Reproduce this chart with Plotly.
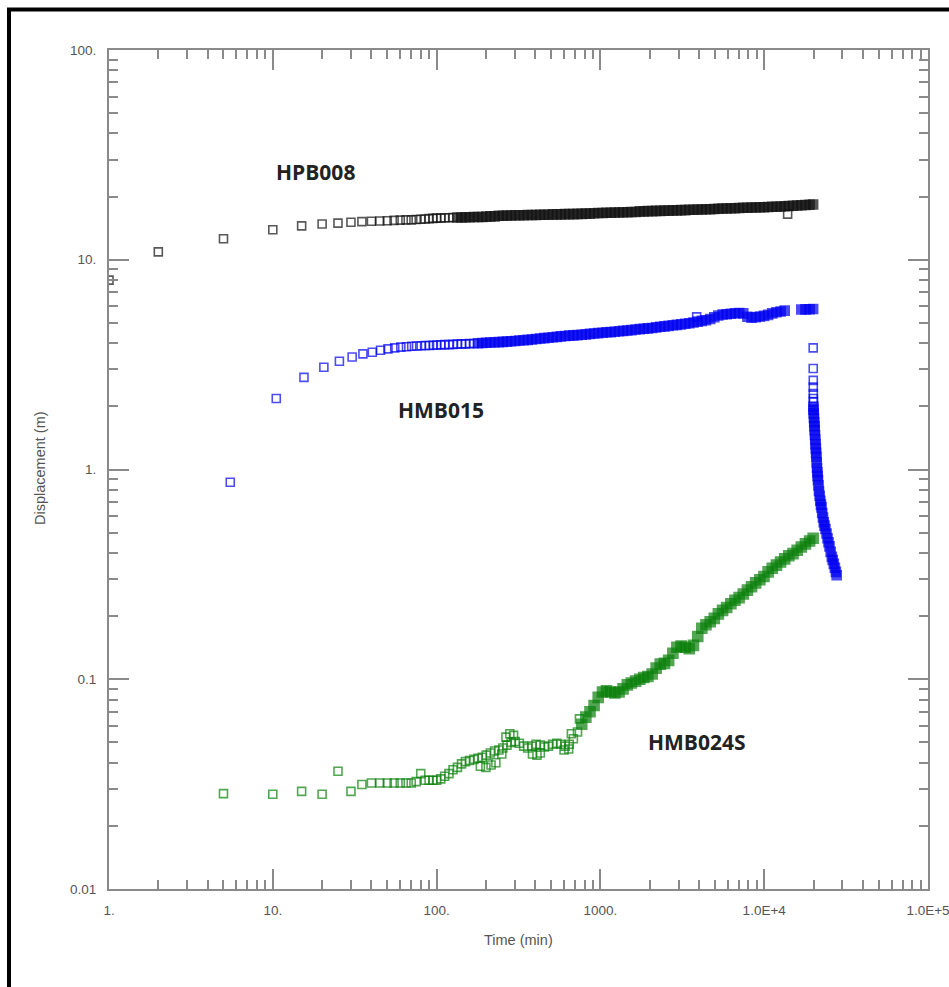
import plotly.graph_objects as go

# ---------------------------------------------------------------------------
# Pumping-test displacement records (time in minutes, displacement in metres)
# ---------------------------------------------------------------------------

# Shared logging times for the dense part of each record
grid_time = [
    100, 106, 112, 119, 126, 134, 142, 150, 159, 169,
    179, 190, 201, 213, 226, 240, 254, 269, 285, 302,
    320, 340, 360, 382, 405, 429, 455, 482, 511, 542,
    574, 609, 645, 684, 725, 769, 815, 864, 915, 970,
    1030, 1090, 1155, 1225, 1300, 1375, 1460, 1545, 1640, 1740,
    1840, 1950, 2070, 2190, 2320, 2460, 2610, 2770, 2930, 3110,
    3300, 3490, 3700, 3930, 4160, 4410, 4680, 4960, 5250, 5570,
    5900, 6260, 6630, 7030, 7450, 7900, 8370, 8870, 9410, 9970,
    10570, 11200, 11880, 12590, 13340, 14140, 14990, 15890, 16850, 17860,
    18930, 19900,
]

# HPB008 (pumping well)
hpb008_early_time = [1, 2, 5, 10, 15, 20, 25, 30, 35, 40, 45, 50, 55, 60, 65,
                     70, 75, 80, 85, 90, 95]
hpb008_early_disp = [8.0, 10.9, 12.6, 13.9, 14.5, 14.8, 14.95, 15.1, 15.2, 15.25,
                     15.3, 15.35, 15.4, 15.45, 15.5, 15.5, 15.55, 15.6, 15.65,
                     15.7, 15.75]
hpb008_grid_disp = [
    15.8, 15.8, 15.85, 15.85, 15.9, 15.9, 15.9, 15.95, 15.95, 16.0,
    16.0, 16.0, 16.05, 16.1, 16.1,
    16.2, 16.2, 16.25, 16.25, 16.3, 16.3, 16.3, 16.35, 16.35, 16.35,
    16.4, 16.4, 16.4, 16.45, 16.45, 16.45, 16.5, 16.5, 16.5, 16.55,
    16.55, 16.6, 16.6, 16.65,
    16.7, 16.7, 16.75, 16.75, 16.8, 16.8, 16.85, 16.85, 16.9, 16.9,
    17.0, 17.0, 17.05, 17.05, 17.1, 17.1, 17.15, 17.15, 17.2, 17.2,
    17.25, 17.25, 17.3, 17.3, 17.35, 17.35, 17.4, 17.4, 17.45, 17.5,
    17.55, 17.55, 17.6, 17.6, 17.65, 17.7, 17.7, 17.75, 17.75, 17.8,
    17.8, 17.85, 17.9, 17.9, 17.95, 18.0,
    18.05, 18.1, 18.15, 18.2, 18.25, 18.3, 18.35,
]
hpb008_extra_time = [13900]
hpb008_extra_disp = [16.5]

# HMB015 (observation well, with recovery after pump stop)
hmb015_early_time = [5.5, 10.5, 15.5, 20.5, 25.5, 30.5, 35.5, 40.5, 45.5, 50.5,
                     55.5, 60.5, 65.5, 70.5, 75.5, 80.5, 85.5, 90.5, 95.5]
hmb015_early_disp = [0.87, 2.18, 2.75, 3.07, 3.28, 3.44, 3.56, 3.62, 3.70, 3.76,
                     3.80, 3.83, 3.85, 3.87, 3.88, 3.89, 3.90, 3.90, 3.91]
hmb015_grid_disp = [
    3.92, 3.93, 3.94, 3.94, 3.95, 3.96, 3.97, 3.97, 3.98, 3.99,
    4.00, 4.01, 4.02, 4.03, 4.04,
    4.05, 4.06, 4.07, 4.09, 4.10, 4.12, 4.13, 4.15, 4.17, 4.19,
    4.21, 4.23, 4.25, 4.27, 4.29, 4.31, 4.33, 4.35, 4.36, 4.37,
    4.39, 4.41, 4.43, 4.45,
    4.47, 4.49, 4.51, 4.52, 4.54, 4.56, 4.58, 4.60, 4.62, 4.65,
    4.67, 4.69, 4.71, 4.73, 4.76, 4.79, 4.81, 4.84, 4.87, 4.89,
    4.92, 4.95, 4.98, 5.02, 5.07, 5.11, 5.15, 5.22, 5.32, 5.42,
    5.48, 5.50, 5.53, 5.56, 5.57, 5.55, 5.35, 5.30, 5.32, 5.36,
    5.40, 5.46, 5.55, 5.62, 5.67, 5.72,
    None, None, None, 5.79, 5.80, 5.81, 5.82,
]
hmb015_extra_time = [3870]
hmb015_extra_disp = [5.34]
# first readings after the pump stopped
hmb015_stop_time = [19910, 19920, 19930, 19940, 19950, 19960, 19970]
hmb015_stop_disp = [3.80, 3.03, 2.66, 2.47, 2.30, 2.18, 2.10]
hmb015_recovery_time = [
    19980, 19990,
    20060, 20130, 20200, 20270, 20340,
    20420, 20500, 20580, 20660, 20740, 20830, 20920, 21010, 21110, 21200, 21300,
    21450, 21600, 21800, 22000, 22200, 22380,
    22600, 22850, 23100, 23350, 23650, 24020,
    24350, 24700, 25050, 25450, 25870,
    26200, 26600, 27000, 27400, 27700,
]
hmb015_recovery_disp = [
    1.99, 1.93,
    1.85, 1.76, 1.68, 1.61, 1.54,
    1.46, 1.39, 1.32, 1.26, 1.20, 1.15, 1.08, 1.02, 0.97, 0.93, 0.89,
    0.84, 0.79, 0.75, 0.71, 0.68, 0.66,
    0.62, 0.59, 0.56, 0.54, 0.52, 0.495,
    0.47, 0.45, 0.43, 0.405, 0.383,
    0.37, 0.355, 0.34, 0.325, 0.313,
]

# HMB024S (shallow observation well)
hmb024s_early_time = [5, 10, 15, 20, 25, 30, 35, 40, 45, 50, 55, 60, 65, 70, 75,
                      80, 85, 90, 95]
hmb024s_early_disp = [0.0285, 0.0283, 0.0292, 0.0283, 0.0364, 0.0292, 0.0315,
                      0.0320, 0.0320, 0.0320, 0.0320, 0.0320, 0.0320, 0.0320,
                      0.0325, 0.0355, 0.0330, 0.0330, 0.0330]
hmb024s_grid_disp = [
    0.0330, 0.0335, 0.0345, 0.0355, 0.0370, 0.0380, 0.0395, 0.0405, 0.0410, 0.0415,
    0.0420, 0.0425, 0.0435, 0.0445, 0.0455,
    0.0460, 0.0470, 0.0485, 0.0500, 0.0505, 0.0495, 0.0480, 0.0470, 0.0480, 0.0490,
    0.0485, 0.0475, 0.0480, 0.0490, 0.0495, 0.0490, 0.0480, 0.0490, 0.0520, 0.0560,
    0.0610, 0.0660, 0.0700, 0.0750,
    0.0820, 0.0870, 0.0880, 0.0870, 0.0860, 0.0870, 0.0900, 0.0940, 0.0960, 0.0980,
    0.1000, 0.1020, 0.1030, 0.1060, 0.1130, 0.1180, 0.1190, 0.1230, 0.1330, 0.1420,
    0.1440, 0.1420, 0.1400, 0.1450, 0.1600, 0.1750, 0.1820, 0.1880, 0.1950, 0.2050,
    0.2130, 0.2200, 0.2290, 0.2380, 0.2450, 0.2550, 0.2660, 0.2760, 0.2880, 0.2980,
    0.3090, 0.3250, 0.3380, 0.3500, 0.3620, 0.3750,
    0.3880, 0.3970, 0.4120, 0.4270, 0.4420, 0.4560, 0.4700,
]
hmb024s_extra_time = [185, 200, 215, 230, 250, 265, 280, 295, 385, 410, 430,
                      600, 640, 665, 745]
hmb024s_extra_disp = [0.0385, 0.0380, 0.0390, 0.0400, 0.0440, 0.0530, 0.0550,
                      0.0540, 0.0440, 0.0435, 0.0445, 0.0460, 0.0465, 0.0550,
                      0.0647]

# Axis tick labels
x_tick_vals = [1, 10, 100, 1000, 10000, 100000]
x_tick_text = ["1.", "10.", "100.", "1000.", "1.0E+4", "1.0E+5"]
y_tick_vals = [0.01, 0.1, 1, 10, 100]
y_tick_text = ["0.01", "0.1", "1.", "10.", "100."]

# Well labels drawn beside each record
well_names = ["HPB008", "HMB015", "HMB024S"]

# ---------------------------------------------------------------------------
AXIS_GREY = "#8a8a8a"
LABEL_GREY = "#555555"
FONT = "Liberation Sans, Arial, sans-serif"


def series(name, colour, parts, crowd_from, crowd_size=9):
    """parts: list of (times, disps, crowded_or_None).

    Sparse readings are open squares; where readings crowd together the
    overlapping squares merge into a solid band, drawn as filled squares.
    """
    xs, ys, symbols, sizes = [], [], [], []
    for times, disps, crowded in parts:
        for t, d in zip(times, disps):
            dense = crowded if crowded is not None else t >= crowd_from
            xs.append(t)
            ys.append(d)
            symbols.append("square" if dense else "square-open")
            sizes.append(crowd_size if dense else 8)
    return go.Scatter(
        x=xs, y=ys, mode="markers", name=name,
        marker=dict(symbol=symbols, size=sizes, color=colour,
                    line=dict(width=1.6, color=colour)),
        showlegend=False,
    )


fig = go.Figure()
fig.add_trace(series(well_names[0], "#111111", [
    (hpb008_early_time, hpb008_early_disp, False),
    (grid_time, hpb008_grid_disp, None),
    (hpb008_extra_time, hpb008_extra_disp, False),
], crowd_from=130))
fig.add_trace(series(well_names[1], "#0000f0", [
    (hmb015_early_time, hmb015_early_disp, False),
    (grid_time, hmb015_grid_disp, None),
    (hmb015_extra_time, hmb015_extra_disp, False),
    (hmb015_stop_time, hmb015_stop_disp, False),
    (hmb015_recovery_time, hmb015_recovery_disp, True),
], crowd_from=170))
fig.add_trace(series(well_names[2], "#0a800a", [
    (hmb024s_early_time, hmb024s_early_disp, False),
    (grid_time, hmb024s_grid_disp, None),
    (hmb024s_extra_time, hmb024s_extra_disp, False),
], crowd_from=760, crowd_size=10))

minor_x = [k * 10 ** d for d in range(0, 5) for k in range(2, 10)]
minor_y = [k * 10.0 ** d for d in range(-2, 2) for k in range(2, 10)]

axis_common = dict(
    type="log",
    automargin=False,
    showgrid=False,
    zeroline=False,
    showline=True,
    linecolor=AXIS_GREY,
    linewidth=2,
    mirror="allticks",
    ticks="inside",
    ticklen=20,
    tickwidth=1.5,
    tickcolor=AXIS_GREY,
    tickmode="array",
    ticklabeloverflow="allow",
    tickfont=dict(family=FONT, size=13.5, color=LABEL_GREY),
)

fig.update_xaxes(
    **axis_common,
    range=[0, 5],
    tickvals=x_tick_vals,
    ticktext=x_tick_text,
    ticklabelstandoff=8,
    minor=dict(ticks="inside", ticklen=9, tickwidth=1.5, tickcolor=AXIS_GREY,
               tickmode="array", tickvals=minor_x, showgrid=False),
)
fig.update_yaxes(
    **axis_common,
    range=[-2, 2],
    tickvals=y_tick_vals,
    ticktext=y_tick_text,
    ticklabelstandoff=8,
    minor=dict(ticks="inside", ticklen=9, tickwidth=1.5, tickcolor=AXIS_GREY,
               tickmode="array", tickvals=minor_y, showgrid=False),
)

title_font = dict(family=FONT, size=14.5, color=LABEL_GREY)
well_font = dict(family="Open Sans, sans-serif", size=21, color="#222222")

annotations = [
    dict(text="Time (min)", x=0.5004, y=-0.0608, xref="paper", yref="paper",
         showarrow=False, font=title_font, xanchor="center", yanchor="middle"),
    dict(text="Displacement (m)", x=-0.0842, y=0.5018, xref="paper",
         yref="paper", showarrow=False, font=title_font, textangle=-90,
         xanchor="center", yanchor="middle"),
]
for name, (xp, yp) in zip(well_names,
                          [(0.2527, 0.8546), (0.4052, 0.5709), (0.7177, 0.1752)]):
    annotations.append(dict(text=f"<b>{name}</b>", x=xp, y=yp, xref="paper",
                            yref="paper", showarrow=False, font=well_font,
                            xanchor="center", yanchor="middle"))

fig.update_layout(
    width=949,
    height=987,
    margin=dict(l=109, r=21, t=50, b=98),
    paper_bgcolor="white",
    plot_bgcolor="white",
    annotations=annotations,
    shapes=[
        # heavy border framing the whole figure
        dict(type="rect", xref="paper", yref="paper",
             x0=-0.1221, x1=1.045, y0=-0.14, y1=1.0483,
             line=dict(color="black", width=4), fillcolor="rgba(0,0,0,0)",
             layer="above"),
    ],
)

fig.write_html("out.html")
